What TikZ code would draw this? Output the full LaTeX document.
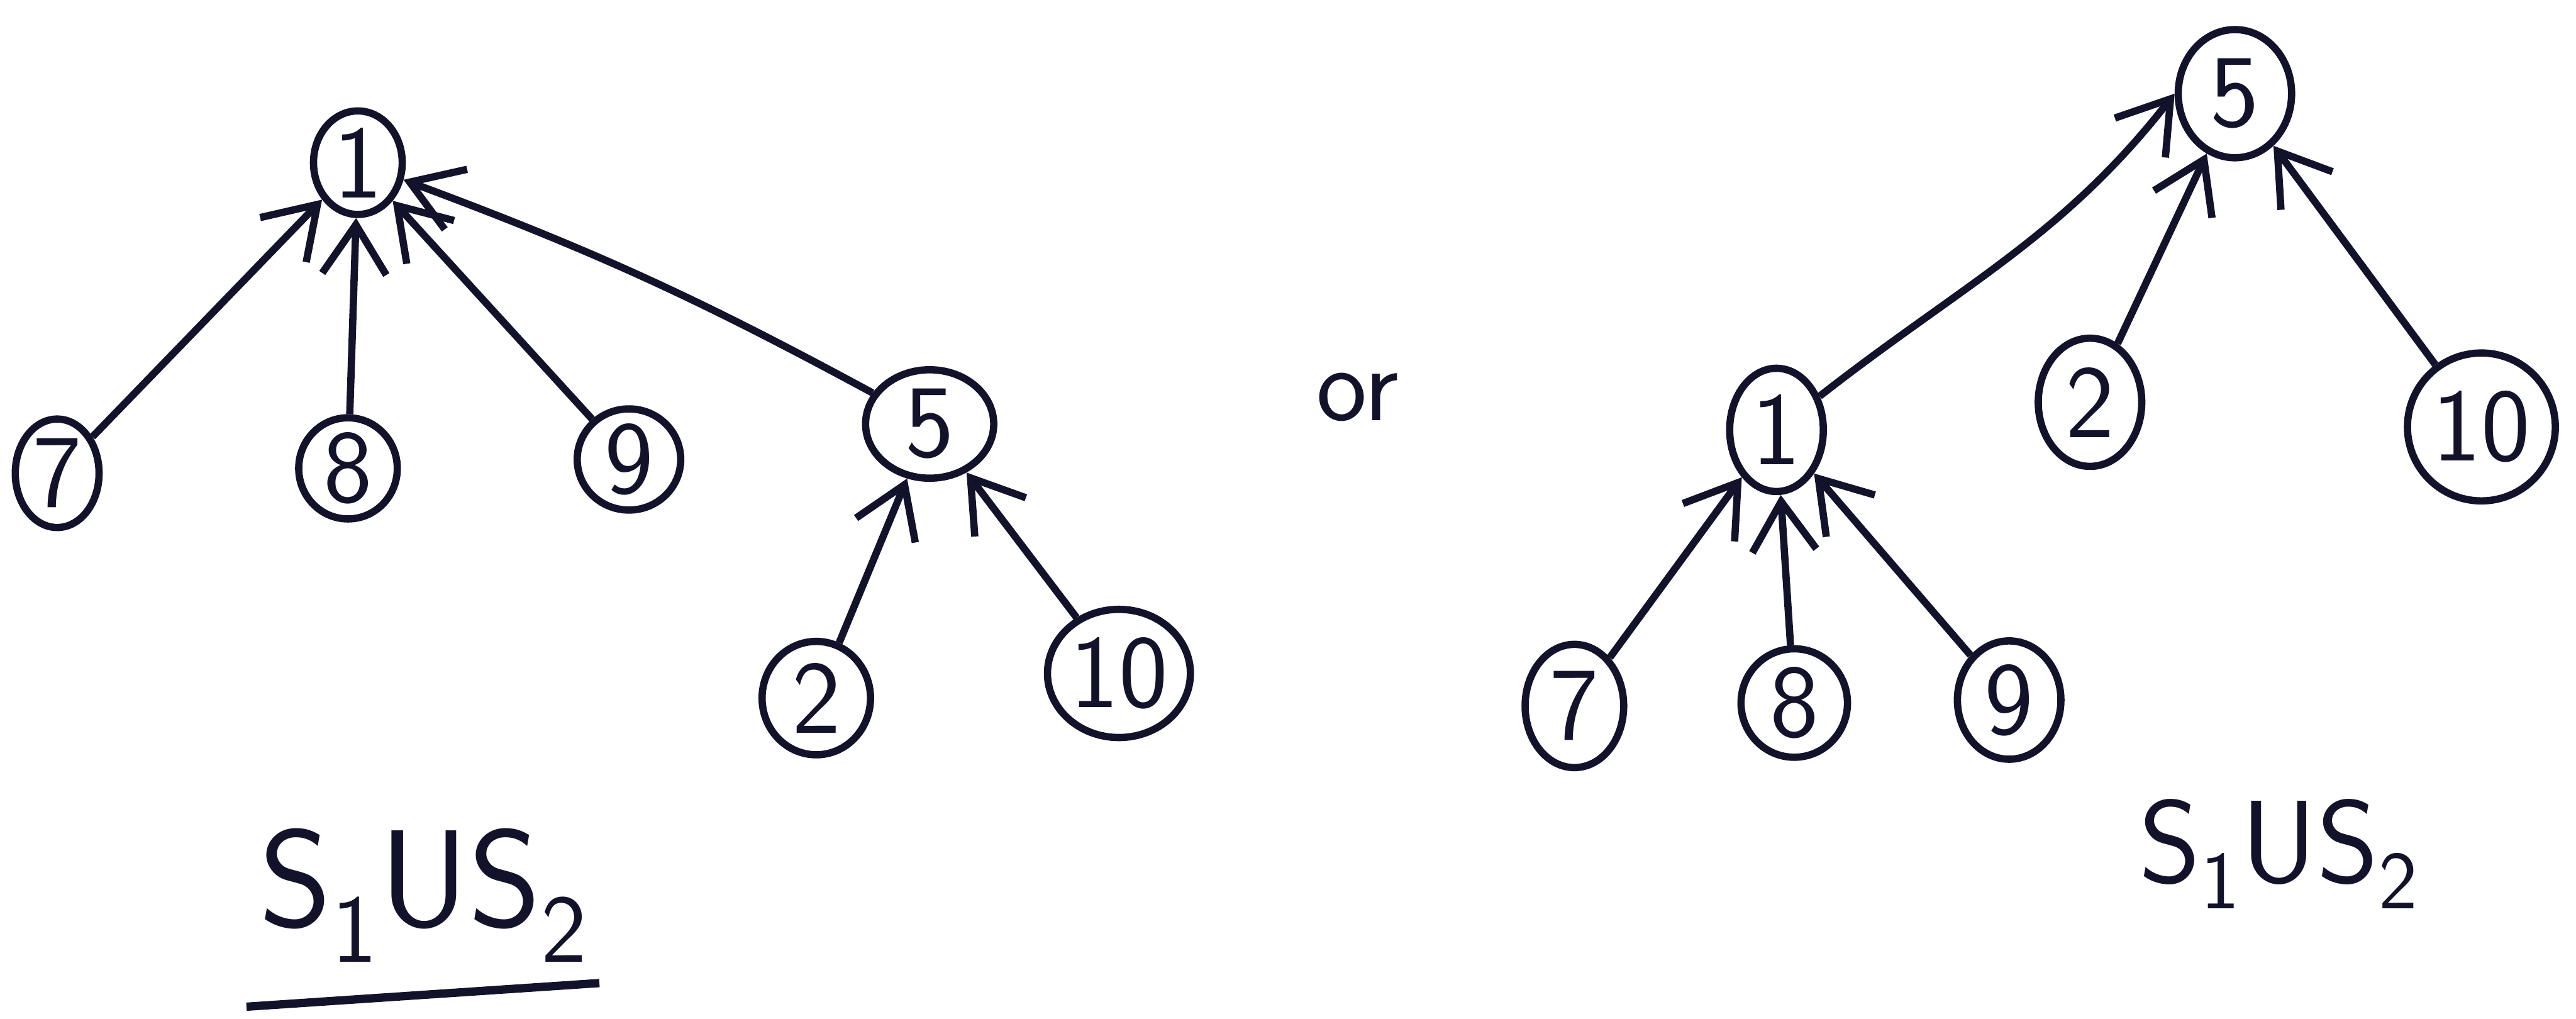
\documentclass[tikz,border=0pt]{standalone}
\usepackage{tikz}
\usetikzlibrary{arrows.meta,shapes.geometric}
\definecolor{ink}{HTML}{12132B}
\tikzset{vtx/.style={ellipse,draw=ink,line width=2.1pt,inner sep=0pt,text=ink,font=\sffamily\fontsize{30}{32}\selectfont},
  up/.style={ink,line width=2.1pt,-{Straight Barb[length=5mm,width=6.5mm]}},
  tag/.style={text=ink,font=\sffamily\fontsize{#1}{#1}\selectfont}}

\begin{document}
\begin{tikzpicture}
\useasboundingbox (0,0) rectangle (26.13,10.33);
% first tree: 5 hangs under 1
\node[vtx,minimum width=0.9cm,minimum height=1.05cm] (a1) at (3.63,8.68) {1};
\node[vtx,minimum width=0.85cm,minimum height=1.1cm] (a7) at (0.58,5.53) {7};
\node[vtx,minimum width=1.0cm,minimum height=1.0cm] (a8) at (3.53,5.58) {8};
\node[vtx,minimum width=1.05cm,minimum height=1.0cm] (a9) at (6.38,5.67) {9};
\node[vtx,minimum width=1.3cm,minimum height=1.1cm] (a5) at (9.43,6.03) {5};
\node[vtx,minimum width=1.1cm,minimum height=1.15cm] (a2) at (8.28,3.25) {2};
\node[vtx,minimum width=1.45cm,minimum height=1.3cm] (a10) at (11.35,3.5) {10};
\draw[up] (a7) -- (a1); \draw[up] (a8) -- (a1); \draw[up] (a9) -- (a1);
\draw[up] (a5) to[bend right=4] (a1);
\draw[up] (a2) -- (a5); \draw[up] (a10) -- (a5);
\node[tag=40] (lblA) at (4.3,1.25) {S\textsubscript{1}US\textsubscript{2}};
\draw[ink,line width=2.4pt] (2.5,0.12) -- (6.08,0.36);
\node[tag=31] (or) at (13.77,6.3) {or};
% second tree: 1 hangs under 5
\node[vtx,minimum width=1.15cm,minimum height=1.3cm] (b5) at (22.67,9.38) {5};
\node[vtx,minimum width=1.05cm,minimum height=1.3cm] (b2) at (21.2,6.25) {2};
\node[vtx,minimum width=1.5cm,minimum height=1.5cm] (b10) at (25.17,6.0) {10};
\node[vtx,minimum width=0.95cm,minimum height=1.25cm] (b1) at (18.02,5.97) {1};
\node[vtx,minimum width=1.0cm,minimum height=1.25cm] (b7) at (15.97,3.17) {7};
\node[vtx,minimum width=1.08cm,minimum height=1.1cm] (b8) at (18.2,3.2) {8};
\node[vtx,minimum width=1.05cm,minimum height=1.2cm] (b9) at (20.38,3.23) {9};
\draw[up] (b1) to[out=38,in=232] (b5.west);
\draw[up] (b2) -- (b5); \draw[up] (b10) -- (b5);
\draw[up] (b7) -- (b1); \draw[up] (b8) -- (b1); \draw[up] (b9) -- (b1);
\node[tag=34] (lblB) at (23.12,1.67) {S\textsubscript{1}US\textsubscript{2}};
\end{tikzpicture}
\end{document}
